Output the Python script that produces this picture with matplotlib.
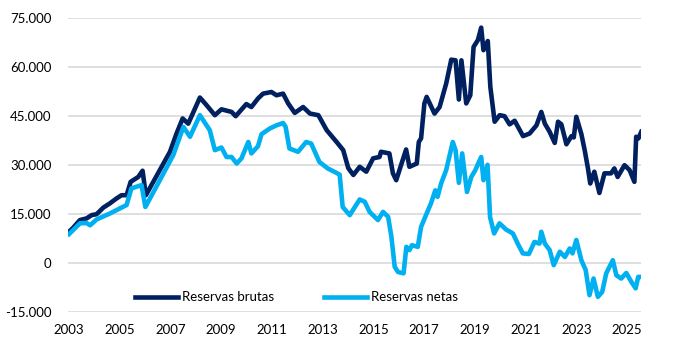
import matplotlib
matplotlib.use("Agg")
import matplotlib.pyplot as plt
from matplotlib.ticker import FuncFormatter

plt.rcParams['font.family'] = ['Lato', 'DejaVu Sans']

# Reservas brutas (millones USD), fechas en años decimales
brutas_t = [2003.00, 2003.17, 2003.43, 2003.69, 2003.89, 2004.09, 2004.35, 2004.61, 2004.87, 2005.07,
            2005.27, 2005.43, 2005.73, 2005.90, 2006.03, 2006.58, 2006.98, 2007.24, 2007.48, 2007.70,
            2008.16, 2008.42, 2008.75, 2009.01, 2009.41, 2009.57, 2009.99, 2010.19, 2010.45, 2010.65,
            2010.98, 2011.18, 2011.44, 2011.64, 2011.90, 2012.23, 2012.50, 2012.83, 2013.16, 2013.55,
            2013.81, 2014.01, 2014.21, 2014.46, 2014.72, 2014.99, 2015.24, 2015.30, 2015.63, 2015.77,
            2015.90, 2016.09, 2016.29, 2016.42, 2016.71, 2016.79, 2016.88, 2017.01, 2017.10, 2017.41,
            2017.61, 2017.87, 2018.07, 2018.24, 2018.37, 2018.47, 2018.66, 2018.82, 2018.95, 2019.12,
            2019.25, 2019.34, 2019.51, 2019.61, 2019.78, 2019.98, 2020.17, 2020.37, 2020.57, 2020.90,
            2021.16, 2021.43, 2021.62, 2021.76, 2021.95, 2022.15, 2022.28, 2022.41, 2022.61, 2022.81,
            2022.90, 2023.00, 2023.20, 2023.33, 2023.46, 2023.55, 2023.71, 2023.91, 2024.11, 2024.37,
            2024.50, 2024.63, 2024.90, 2025.10, 2025.29, 2025.36, 2025.45, 2025.56]
brutas_v = [9500, 10800, 13100, 13600, 14600, 14900, 16900, 18200, 19700, 20700,
            20700, 24800, 26300, 28200, 20700, 28400, 34000, 39600, 44200, 42600,
            50600, 48300, 45200, 47000, 46200, 44900, 48600, 47700, 50300, 51800,
            52300, 51300, 51800, 48800, 45900, 47700, 45700, 45200, 40600, 37000,
            34500, 29000, 26900, 29400, 27900, 32000, 32400, 34000, 33500, 27400,
            25300, 29900, 34700, 29400, 30400, 37000, 38100, 48800, 50800, 45700,
            47700, 54900, 62200, 62000, 50000, 62000, 48800, 51300, 66100, 68200,
            72000, 65100, 67900, 53900, 43200, 45200, 44900, 42400, 43500, 38800,
            39600, 42100, 46200, 42600, 40100, 36700, 43200, 42400, 36300, 38800,
            38400, 44700, 39400, 34500, 28900, 24300, 27900, 21400, 27400, 27400,
            28900, 26300, 29900, 28400, 24800, 38600, 38100, 40100]

# Reservas netas
netas_t = [2003.00, 2003.43, 2003.69, 2003.83, 2004.09, 2004.61, 2005.27, 2005.46, 2005.86, 2006.01,
           2006.58, 2007.11, 2007.51, 2007.77, 2008.16, 2008.55, 2008.75, 2009.01, 2009.21, 2009.41,
           2009.61, 2009.80, 2010.07, 2010.19, 2010.45, 2010.59, 2010.91, 2011.18, 2011.44, 2011.54,
           2011.69, 2012.03, 2012.35, 2012.55, 2012.87, 2013.20, 2013.53, 2013.67, 2013.79, 2014.07,
           2014.27, 2014.46, 2014.66, 2014.85, 2015.18, 2015.38, 2015.58, 2015.71, 2015.84, 2015.97,
           2016.19, 2016.30, 2016.42, 2016.52, 2016.75, 2016.88, 2017.10, 2017.27, 2017.44, 2017.53,
           2017.67, 2017.87, 2018.13, 2018.24, 2018.37, 2018.50, 2018.69, 2018.86, 2019.02, 2019.16,
           2019.25, 2019.34, 2019.50, 2019.60, 2019.76, 2019.97, 2020.23, 2020.50, 2020.69, 2020.89,
           2021.13, 2021.35, 2021.55, 2021.62, 2021.76, 2021.95, 2022.11, 2022.35, 2022.55, 2022.74,
           2022.85, 2023.00, 2023.20, 2023.37, 2023.52, 2023.68, 2023.85, 2024.02, 2024.18, 2024.44,
           2024.58, 2024.77, 2024.97, 2025.17, 2025.34, 2025.44, 2025.53]
netas_v = [8800, 12100, 12200, 11500, 13300, 15100, 17700, 22800, 23800, 17100,
           25300, 33000, 41600, 38600, 45200, 40600, 34500, 35300, 32400, 32400,
           30400, 32000, 37000, 33500, 35700, 39400, 41100, 42100, 42800, 41600,
           35000, 34000, 37000, 36500, 30900, 28900, 27600, 27000, 17100, 14600,
           17100, 19400, 18700, 15600, 13100, 15600, 14100, 8000, -1200, -2800,
           -3200, 4900, 3900, 5400, 4900, 11000, 15100, 18200, 22200, 20200,
           24300, 28400, 37000, 34500, 24500, 33500, 21700, 26300, 28400, 30900,
           32400, 25300, 30000, 14000, 9000, 12100, 10200, 9000, 5900, 2900,
           2700, 6400, 5900, 9500, 5900, 3900, -700, 3400, 1800, 4400,
           2900, 7000, 800, -2200, -9900, -4800, -10400, -8900, -3200, 800,
           -3800, -4800, -3100, -5800, -7800, -4300, -4300]

years = list(range(2003, 2026, 2))
yticks = [-15000, 0, 15000, 30000, 45000, 60000, 75000]

fig = plt.figure(figsize=(6.8, 3.5), dpi=100)
ax = fig.add_axes([0.1, 0.109, 0.843, 0.84])

ax.plot(brutas_t, brutas_v, color='#002060', lw=3.3, solid_joinstyle='round',
        label='Reservas brutas', zorder=3)
ax.plot(netas_t, netas_v, color='#00B0F0', lw=3.3, solid_joinstyle='round',
        label='Reservas netas', zorder=3)

ax.set_xlim(2002.96, 2025.56)
ax.set_ylim(-15000, 75000)
ax.set_xticks(years)
ax.set_yticks(yticks)
ax.yaxis.set_major_formatter(FuncFormatter(
    lambda v, p: '0' if v == 0 else f'{int(v):,}'.replace(',', '.')))

ax.grid(axis='y', color='#D9D9D9', lw=1.2, zorder=0)
for s in ax.spines.values():
    s.set_visible(False)
ax.tick_params(length=0, labelsize=9.5, colors='black')
ax.tick_params(axis='y', pad=12)
ax.tick_params(axis='x', pad=9)

ax.legend(loc='center', bbox_to_anchor=(0.398, 0.05), ncol=2, frameon=False,
          fontsize=9.5, handlelength=3.3, columnspacing=3.8, handletextpad=0.25)

fig.savefig('out.png', dpi=100)
